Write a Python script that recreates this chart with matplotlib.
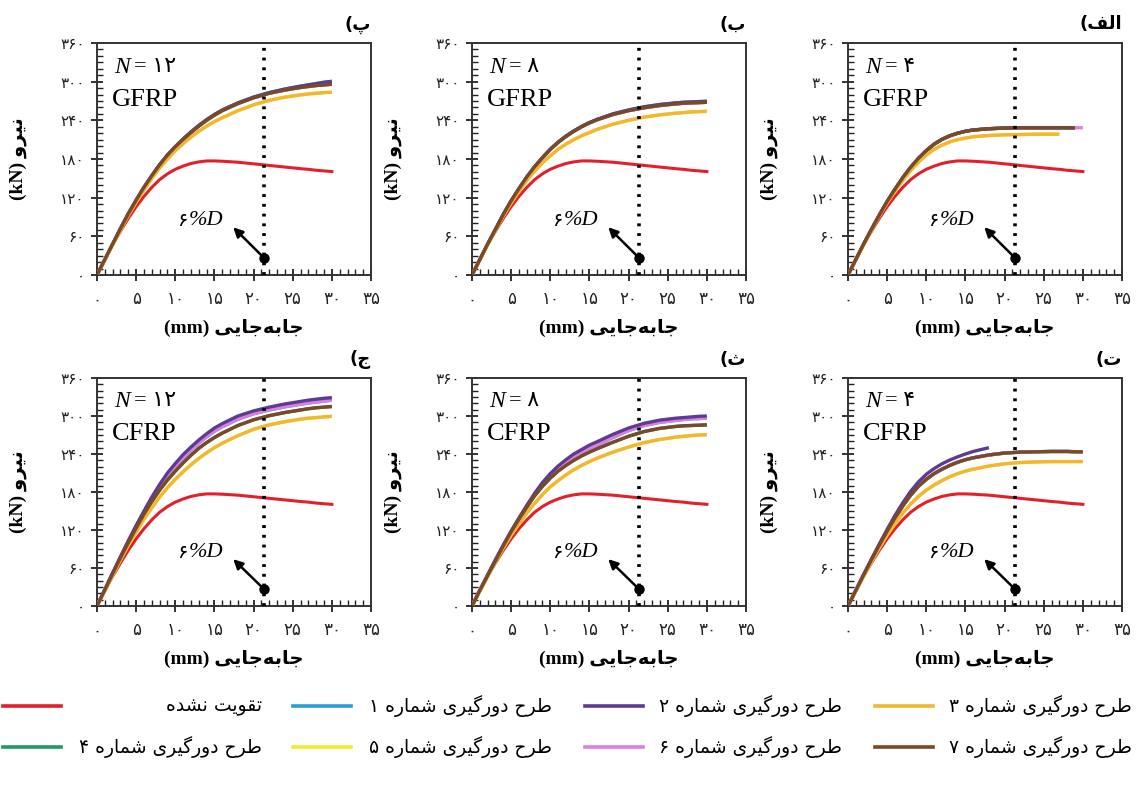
import numpy as np
import matplotlib
matplotlib.use('Agg')
import matplotlib.pyplot as plt
from matplotlib.lines import Line2D

# displacement grid (mm) shared by all curves
disp = [0, 1, 2, 3, 4, 5, 6, 7, 8, 9, 10, 11, 12, 13, 14, 15, 16,
        18, 20, 22, 24, 26, 27, 28, 29, 30]

# unreinforced column, same in every panel (kN)
unreinf = [0, 24, 47, 68, 88, 106, 122, 136, 148, 157, 164, 169, 173, 175.5, 177, 177, 176.5,
           175, 172.5, 170, 167.5, 165, 164, 162.5, 161.5, 160.5]

# N = 4, GFRP
gfrp4_brown = [0, 24, 48, 71, 93, 114, 133, 151, 167, 181, 193, 203, 210.5, 216, 220, 223, 225,
               227, 228, 228.5, 228.5, 228.5, 228.5, 228.5, 228.5]
gfrp4_pink = [0, 24, 48, 71, 93, 114, 133, 151, 167, 181, 193, 203, 210.5, 216, 220, 223, 225,
              227, 228, 228.5, 228.5, 228.5, 228.5, 228.5, 228.5, 228.5]
gfrp4_orange = [0, 23.5, 47, 70, 92, 112, 130, 147, 162, 175, 186, 195, 201.5, 206.5, 210, 212.5, 214.5,
                216.5, 217.5, 218, 218.5, 218.5, 218.5]

# N = 8, GFRP
gfrp8_purple = [0, 24, 48, 71, 94, 115, 134, 152, 168, 182, 195, 206, 215.5, 223.5, 230.5, 236.5, 241.5,
                250, 256, 261, 264.5, 267, 268, 268.5, 269, 269.5]
gfrp8_brown = [0, 24, 48, 71, 94, 115, 134, 152, 168, 182, 195, 206, 215, 223, 230, 236, 241,
               249, 255, 259.5, 263, 265.5, 266.5, 267, 267.5, 268]
gfrp8_orange = [0, 23.5, 47, 70, 92, 112, 130, 147, 161, 174, 185, 195, 203, 210, 216, 221, 226,
                234, 240, 245, 248.5, 251, 252, 253, 253.5, 254]

# N = 12, GFRP
gfrp12_purple = [0, 24, 48, 72, 95, 116, 136, 154, 171, 186, 199, 211, 222, 232, 241, 249, 256,
                 267, 276, 283, 288.5, 293, 295, 297, 299, 300.5]
gfrp12_brown = [0, 24, 48, 72, 95, 116, 136, 154, 171, 186, 199, 210.5, 221, 231, 240, 248, 255,
                266, 275, 282, 287, 291, 292.5, 294, 295, 296]
gfrp12_orange = [0, 23.5, 47, 70, 93, 113, 132, 150, 166, 180, 193, 204, 214, 223, 231, 238, 244,
                 255, 264, 271, 276, 279.5, 281, 282, 283, 283.5]

# N = 4, CFRP
cfrp4_purple = [0, 25, 50, 74, 98, 121, 143, 163, 181, 196, 208, 217, 224.5, 230.5, 235.5, 240, 244, 250]
cfrp4_brown = [0, 24.5, 49, 73, 96, 118, 139, 158, 175, 189, 200, 209, 216, 222, 227, 231, 234,
               238.5, 241.5, 243, 243.5, 244, 244, 244, 243.5, 243.5]
cfrp4_orange = [0, 23.5, 47, 70, 92, 112, 130, 147, 161, 173, 183, 191, 198, 204, 209, 213, 216,
                221, 224.5, 226.5, 227.5, 228, 228, 228, 228, 228]

# N = 8, CFRP
cfrp8_purple = [0, 25, 49, 73, 96, 118, 139, 159, 178, 195, 209, 221, 231, 240, 247, 254, 259.5,
                271, 281, 288.5, 293.5, 296.5, 297.5, 298.5, 299.5, 300]
cfrp8_pink = [0, 25, 49, 73, 96, 118, 138, 157, 175, 191, 205, 217, 227, 235, 242, 248.5, 254,
              266, 277, 285, 290, 293, 294.5, 295.5, 296, 296.5]
cfrp8_brown = [0, 24.5, 48, 71.5, 95, 117, 137, 156, 174, 189, 202, 213, 222, 230, 237, 243, 248.5,
               258.5, 268, 275.5, 280.5, 283.5, 284.5, 285, 285.5, 286]
cfrp8_orange = [0, 23.5, 47, 70, 92, 112, 130, 147, 162, 176, 188, 198, 207, 215, 222, 228, 233.5,
                243, 251, 258, 263, 266.5, 268, 269, 270, 270.5]

# N = 12, CFRP
cfrp12_purple = [0, 26, 52, 78, 103, 127, 150, 172, 192, 210, 225, 239, 251, 262, 272, 281, 288,
                 300, 308, 314, 319, 323, 325, 326.5, 328, 329]
cfrp12_pink = [0, 26, 52, 77, 102, 126, 148, 169, 189, 206, 221, 234, 246, 257, 267, 276, 283,
               295, 303.5, 309.5, 314.5, 318.5, 320.5, 322, 323.5, 325]
cfrp12_brown = [0, 25.5, 51, 76, 100, 123, 145, 165, 183, 199, 213, 226, 238, 249, 258, 266, 273,
                285, 294, 300.5, 305.5, 309.5, 311.5, 313, 314, 315]
cfrp12_orange = [0, 24.5, 49, 73, 96, 117, 137, 155, 172, 187, 200, 212, 223, 233, 242, 250, 257,
                 269, 279, 286, 291, 295, 296.5, 297.5, 298.5, 299.5]

x_ticks = [0, 5, 10, 15, 20, 25, 30, 35]
y_ticks = [0, 60, 120, 180, 240, 300, 360]
limit_disp = 21.3          # 6% of D
arrow_from = (21.3, 27)
arrow_to = (17.4, 74)

colors = {0: '#e3202a', 1: '#2b9fd8', 2: '#5b3b95', 3: '#f2b631',
          4: '#1f9a62', 5: '#f3ea2e', 6: '#dc80dd', 7: '#7a4a26'}
draw_order = [1, 4, 5, 6, 2, 3, 7]

# --- minimal persian shaping (matplotlib has no arabic text layout) ---
FORMS = {'ا': 0xFE8D, 'ب': 0xFE8F, 'پ': 0xFB56, 'ت': 0xFE95, 'ث': 0xFE99, 'ج': 0xFE9D,
         'ح': 0xFEA1, 'د': 0xFEA9, 'ر': 0xFEAD, 'ش': 0xFEB5, 'ط': 0xFEC1, 'ف': 0xFED1,
         'ق': 0xFED5, 'گ': 0xFB92, 'ل': 0xFEDD, 'م': 0xFEE1, 'ن': 0xFEE5, 'ه': 0xFEE9,
         'و': 0xFEED, 'ی': 0xFBFC}
RIGHT_ONLY = set('ادرو')


def fa(text):
    out = []
    for i, c in enumerate(text):
        if c not in FORMS:
            if c != '\u200c':
                out.append(c)
            continue
        prev = text[i - 1] if i > 0 else ''
        nxt = text[i + 1] if i + 1 < len(text) else ''
        jp = prev in FORMS and prev not in RIGHT_ONLY
        jn = nxt in FORMS and c not in RIGHT_ONLY
        if jp and jn:
            k = 3
        elif jp:
            k = 1
        elif jn:
            k = 2
        else:
            k = 0
        out.append(chr(FORMS[c] + k))
    return ''.join(reversed(out))


def fa_num(v):
    return str(v).translate(str.maketrans('0123456789', '۰۱۲۳۴۵۶۷۸۹'))


panels = [
    # (panel letter, N, fibre, curves per design, column, row)
    ('پ', 12, 'GFRP', {1: gfrp12_purple, 2: gfrp12_purple, 4: gfrp12_brown, 5: gfrp12_orange,
                       6: gfrp12_brown, 3: gfrp12_orange, 7: gfrp12_brown}, 0, 0),
    ('ب', 8, 'GFRP', {1: gfrp8_purple, 2: gfrp8_purple, 4: gfrp8_brown, 5: gfrp8_orange,
                      6: gfrp8_brown, 3: gfrp8_orange, 7: gfrp8_brown}, 1, 0),
    ('الف', 4, 'GFRP', {1: gfrp4_brown, 2: gfrp4_brown, 4: gfrp4_brown, 5: gfrp4_orange,
                        6: gfrp4_pink, 3: gfrp4_orange, 7: gfrp4_brown}, 2, 0),
    ('ج', 12, 'CFRP', {1: cfrp12_pink, 2: cfrp12_purple, 4: cfrp12_brown, 5: cfrp12_orange,
                       6: cfrp12_pink, 3: cfrp12_orange, 7: cfrp12_brown}, 0, 1),
    ('ث', 8, 'CFRP', {1: cfrp8_pink, 2: cfrp8_purple, 4: cfrp8_brown, 5: cfrp8_orange,
                      6: cfrp8_pink, 3: cfrp8_orange, 7: cfrp8_brown}, 1, 1),
    ('ت', 4, 'CFRP', {1: cfrp4_brown, 2: cfrp4_purple, 4: cfrp4_brown, 5: cfrp4_orange,
                      6: cfrp4_brown, 3: cfrp4_orange, 7: cfrp4_brown}, 2, 1),
]

W, H = 1140, 789
fig = plt.figure(figsize=(W / 100, H / 100), dpi=100)

col_left = [97, 472, 848]
row_top = [43, 378]
row_h = [232, 228]
ax_w = 274

SERIF = ['Liberation Serif', 'DejaVu Sans']

for letter, n, fibre, curves, col, row in panels:
    ax = fig.add_axes([col_left[col] / W, 1 - (row_top[row] + row_h[row]) / H,
                       ax_w / W, row_h[row] / H])
    ax.plot(disp, unreinf, color=colors[0], lw=2.2, zorder=3)
    for d in draw_order:
        y = curves[d]
        ax.plot(disp[:len(y)], y, color=colors[d], lw=2.4, zorder=3,
                solid_capstyle='butt')
    ax.axvline(limit_disp, color='k', lw=2.6, linestyle=(0, (0.8, 1.9)), zorder=4)
    ax.annotate('', xy=arrow_to, xytext=arrow_from,
                arrowprops=dict(arrowstyle='-|>', color='k', lw=1.8,
                                mutation_scale=14, shrinkA=0, shrinkB=0), zorder=5)
    ax.plot(*arrow_from, 'o', color='k', ms=6.5, zorder=5)
    ax.text(16.2, 85, '%D', fontsize=16, family='Liberation Serif', style='italic',
            ha='right', va='center')
    ax.annotate(fa_num(6), xy=(16.2, 85), xytext=(-26, 0), textcoords='offset points',
                fontsize=14, family='DejaVu Sans', ha='right', va='center')

    ax.text(0.064, 0.895, 'N', transform=ax.transAxes, fontsize=17,
            family='Liberation Serif', style='italic', va='center', ha='left')
    ax.annotate('= ' + fa_num(n), xy=(0.064, 0.895), xycoords='axes fraction',
                xytext=(14, 0), textcoords='offset points', fontsize=16,
                family=SERIF, va='center', ha='left')
    ax.text(0.055, 0.755, fibre, transform=ax.transAxes, fontsize=19,
            family='Liberation Serif', va='center', ha='left')

    # rtl label: the closing bracket sits on the left, mirrored
    ax.text(1.0, 1.08, '(' + fa(letter), transform=ax.transAxes, fontsize=13,
            fontweight='bold', ha='right', va='center', family=['DejaVu Sans'])

    ax.set_xlim(0, 35)
    ax.set_ylim(0, 360)
    ax.set_xticks(x_ticks)
    ax.set_xticklabels([fa_num(v) for v in x_ticks], fontsize=12)
    ax.set_yticks(y_ticks)
    ax.set_yticklabels([fa_num(v) for v in y_ticks], fontsize=11)
    ax.set_xticks(np.arange(0, 36, 1), minor=True)
    ax.set_yticks(np.arange(0, 361, 10), minor=True)
    ax.tick_params(which='major', direction='inout', length=8, width=1.3,
                   colors='#222222', pad=5)
    ax.tick_params(which='minor', direction='in', length=4, width=1.0, colors='#222222')
    ax.tick_params(axis='x', which='major', pad=7)
    for s in ax.spines.values():
        s.set_linewidth(1.4)
        s.set_color('#333333')

    ax.set_xlabel('(mm) ' + fa('جابه\u200cجایی'), fontsize=14, family=SERIF,
                  fontweight='bold', labelpad=8)
    ax.set_ylabel('(kN) ' + fa('نیرو'), fontsize=14, family=SERIF,
                  fontweight='bold', labelpad=24)

# legend, laid out right to left like the original
legend_items = [
    (0, fa('تقویت نشده')),
    (1, fa_num(1) + ' ' + fa('طرح دورگیری شماره')),
    (2, fa_num(2) + ' ' + fa('طرح دورگیری شماره')),
    (3, fa_num(3) + ' ' + fa('طرح دورگیری شماره')),
    (4, fa_num(4) + ' ' + fa('طرح دورگیری شماره')),
    (5, fa_num(5) + ' ' + fa('طرح دورگیری شماره')),
    (6, fa_num(6) + ' ' + fa('طرح دورگیری شماره')),
    (7, fa_num(7) + ' ' + fa('طرح دورگیری شماره')),
]
line_left = [3, 293, 585, 875]
text_right = [262, 552, 842, 1132]
row_y = [706, 747]
for i, (d, label) in enumerate(legend_items):
    r = i // 4
    c = i % 4
    y = 1 - row_y[r] / H
    fig.add_artist(Line2D([line_left[c] / W, (line_left[c] + 58) / W], [y, y],
                          color=colors[d], lw=2.6))
    fig.text(text_right[c] / W, y, label, fontsize=13.5, ha='right', va='center',
             family=['DejaVu Sans'])

fig.savefig('out.png', dpi=100)
